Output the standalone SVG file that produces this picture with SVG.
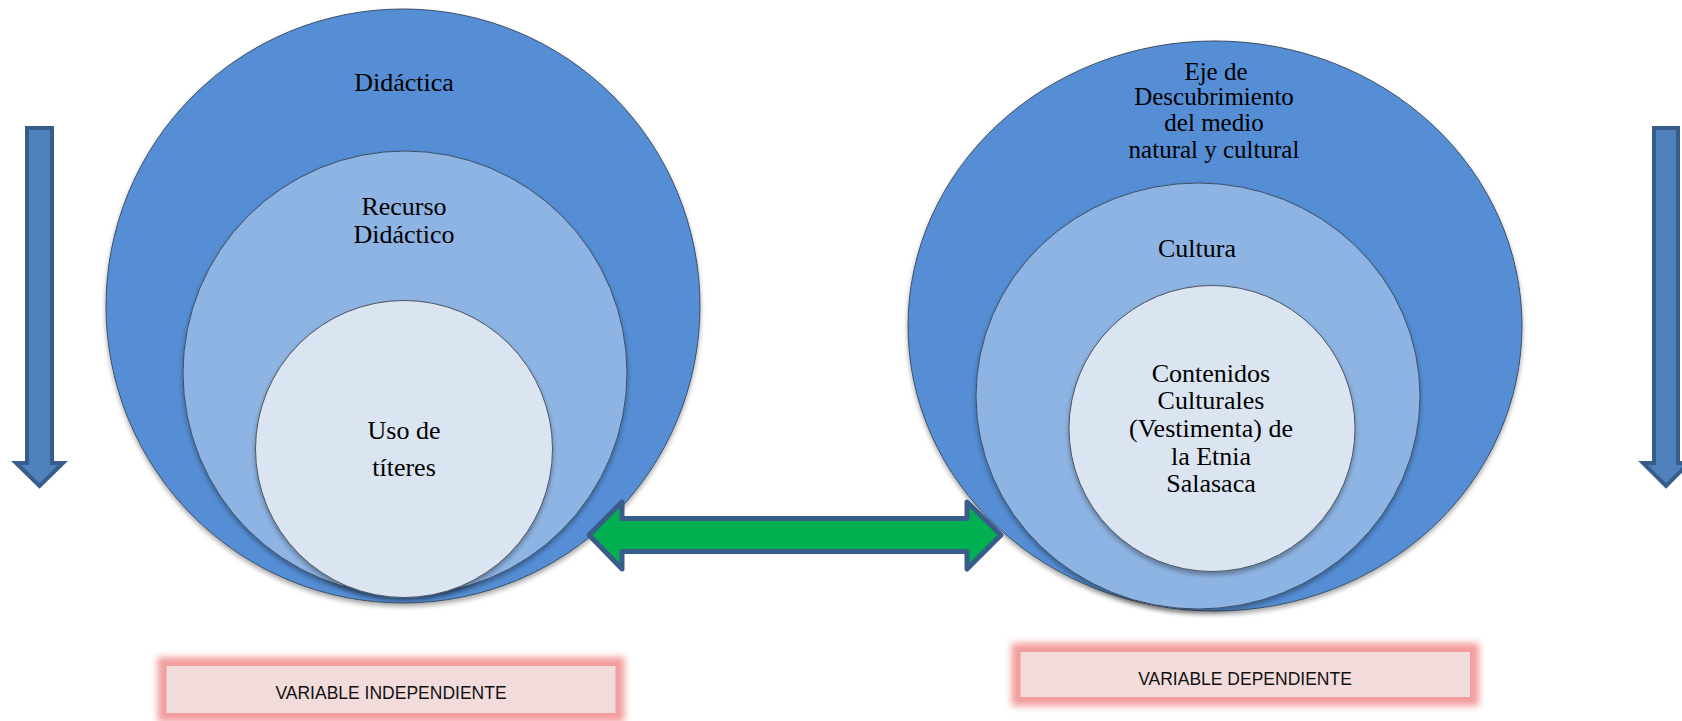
<svg xmlns="http://www.w3.org/2000/svg" width="1682" height="721" viewBox="0 0 1682 721">
  <style>
    .outer { fill: #558ED5; stroke: #3b4f66; stroke-width: 1; filter: url(#shadow); }
    .middle { fill: #8EB4E3; stroke: #3b4f66; stroke-width: 1; filter: url(#shadow); }
    .inner { fill: #DBE5F1; stroke: #4a5563; stroke-width: 1; filter: url(#shadow); }
    .t { font-family: "Liberation Serif", "Times New Roman", serif; font-size: 26px; fill: #000; text-anchor: middle; }
    .t2 { font-family: "Liberation Serif", "Times New Roman", serif; font-size: 25px; fill: #000; text-anchor: middle; }
    .down { fill: #4F81BD; stroke: #385D8A; stroke-width: 4; stroke-linejoin: miter; }
    .dbl { fill: #00B050; stroke: #385D8A; stroke-width: 5; stroke-linejoin: round; }
    .box { fill: #F2DCDB; }
    .glow { fill: none; stroke: #F29C9C; stroke-width: 18; filter: url(#blur); }
    .lbl { font-family: "Liberation Sans", Arial, sans-serif; font-size: 17.5px; fill: #111; text-anchor: middle; }
  </style>
  <defs>
    <filter id="shadow" x="-10%" y="-10%" width="120%" height="125%">
      <feGaussianBlur in="SourceAlpha" stdDeviation="2.5"/>
      <feOffset dx="0" dy="3" result="b"/>
      <feComponentTransfer><feFuncA type="linear" slope="0.35"/></feComponentTransfer>
      <feMerge><feMergeNode/><feMergeNode in="SourceGraphic"/></feMerge>
    </filter>
    <filter id="blur" x="-10%" y="-60%" width="120%" height="220%">
      <feGaussianBlur stdDeviation="3.5"/>
    </filter>
  </defs>

  <g id="arrow-left-down">
    <path class="down" d="M27,128 L52,128 L52,463 L63,463 L39.5,486 L16,463 L27,463 Z"/>
  </g>
  <g id="arrow-right-down">
    <path class="down" d="M1654,128 L1678,128 L1678,463 L1689,463 L1666,486 L1643,463 L1654,463 Z"/>
  </g>

  <g id="node-didactica">
    <circle class="outer" cx="403" cy="306" r="297"/>
    <text class="t" x="404" y="91">Didáctica</text>
  </g>
  <g id="node-recurso">
    <circle class="middle" cx="405" cy="373" r="222"/>
    <text class="t" x="404" y="215">Recurso</text>
    <text class="t" x="404" y="243">Didáctico</text>
  </g>
  <g id="node-titeres">
    <circle class="inner" cx="404" cy="449" r="148.5"/>
    <text class="t" x="404" y="439">Uso de</text>
    <text class="t" x="404" y="476">títeres</text>
  </g>

  <g id="node-eje">
    <ellipse class="outer" cx="1215" cy="326" rx="307" ry="285"/>
    <text class="t2" x="1216" y="80">Eje de</text>
    <text class="t2" x="1214" y="105">Descubrimiento</text>
    <text class="t2" x="1214" y="131">del medio</text>
    <text class="t2" x="1214" y="158">natural y cultural</text>
  </g>
  <g id="node-cultura">
    <ellipse class="middle" cx="1198" cy="396" rx="222" ry="213"/>
    <text class="t" x="1197" y="257">Cultura</text>
  </g>
  <g id="node-contenidos">
    <circle class="inner" cx="1212" cy="428.5" r="143"/>
    <text class="t" x="1211" y="382">Contenidos</text>
    <text class="t" x="1211" y="409">Culturales</text>
    <text class="t" x="1211" y="437">(Vestimenta) de</text>
    <text class="t" x="1211" y="465">la Etnia</text>
    <text class="t" x="1211" y="492">Salasaca</text>
  </g>

  <g id="connectors">
    <path class="dbl" d="M589,535 L622,502 L622,518.5 L967,518.5 L967,502 L1001,535 L967,569 L967,551.5 L622,551.5 L622,569 Z"/>
  </g>

  <g id="label-independiente">
    <rect class="glow" x="166.5" y="666" width="449" height="47"/>
    <rect class="box" x="166.5" y="666" width="449" height="47"/>
    <text class="lbl" x="391" y="699">VARIABLE INDEPENDIENTE</text>
  </g>
  <g id="label-dependiente">
    <rect class="glow" x="1020.5" y="652" width="449.5" height="45"/>
    <rect class="box" x="1020.5" y="652" width="449.5" height="45"/>
    <text class="lbl" x="1245" y="685">VARIABLE DEPENDIENTE</text>
  </g>
</svg>
